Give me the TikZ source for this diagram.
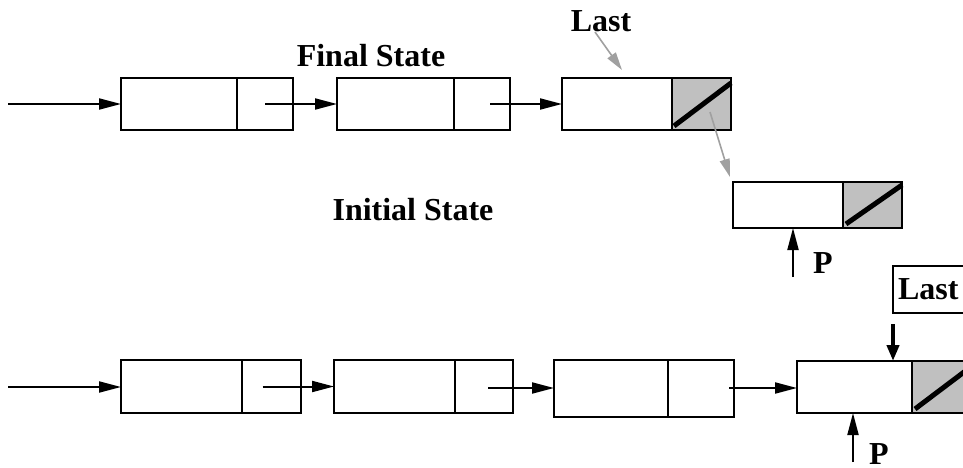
\documentclass[tikz,border=0pt]{standalone}
\usepackage{fontspec}
\setmainfont{Liberation Serif}
\usetikzlibrary{arrows.meta}
\definecolor{cellgray}{HTML}{C0C0C0}
\definecolor{linkgray}{HTML}{A0A0A0}
\begin{document}
\begin{tikzpicture}[x=1pt,y=-1pt,
  cell/.style={draw,line width=2pt,rectangle,inner sep=0pt,outer sep=0pt,anchor=north west},
  nilcell/.style={cell,fill=cellgray},
  link/.style={line width=2pt,-{Triangle[length=22pt,width=11pt]}},
  glink/.style={linkgray,line width=1.6pt,-{Triangle[length=18pt,width=10pt]}},
  nilbar/.style={line width=5pt},
  lbl/.style={font=\bfseries\fontsize{32}{38}\selectfont,inner sep=0pt,anchor=base}]
\clip (0,0) rectangle (963,468);

% ---- upper list ----
\node[cell,minimum width=116pt,minimum height=52pt] (T1d) at (121,78) {};
\node[cell,minimum width=56pt,minimum height=52pt] (T1p) at (237,78) {};
\node[cell,minimum width=117pt,minimum height=52pt] (T2d) at (337,78) {};
\node[cell,minimum width=56pt,minimum height=52pt] (T2p) at (454,78) {};
\node[cell,minimum width=110pt,minimum height=52pt] (T3d) at (562,78) {};
\node[nilcell,minimum width=59pt,minimum height=52pt] (T3p) at (672,78) {};
\draw[nilbar] ([shift={(2,-4)}]T3p.south west) -- ([shift={(0,5)}]T3p.north east);

\node[cell,minimum width=110pt,minimum height=46pt] (I4d) at (733,182) {};
\node[nilcell,minimum width=59pt,minimum height=46pt] (I4p) at (843,182) {};
\draw[nilbar] ([shift={(3,-4)}]I4p.south west) -- ([shift={(0,3)}]I4p.north east);

\coordinate (Tin) at (8,104);
\draw[link] (Tin) -- (T1d.west);
\draw[link] (T1p.center) -- (T2d.west);
\draw[link] ([xshift=8pt]T2p.center) -- (T3d.west);

\node[lbl] (final) at (371,67) {Final State};
\node[lbl] (initial) at (413,220) {Initial State};

\node[lbl] (lastT) at (601,32) {Last};
\coordinate (lastTtip) at (622,70);
\draw[glink] ([shift={(-6,0)}]lastT.base) -- (lastTtip);
\draw[glink] ([shift={(8.5,8)}]T3p.center) -- ([shift={(-3,-5)}]I4d.north west);

\node[lbl] (pT) at (823,273) {P};
\coordinate (pTfoot) at (793,277);
\draw[link] (pTfoot) -- (pTfoot |- I4d.south);

% ---- lower list ----
\node[cell,minimum width=121pt,minimum height=53pt] (B1d) at (121,360) {};
\node[cell,minimum width=59pt,minimum height=53pt] (B1p) at (242,360) {};
\node[cell,minimum width=121pt,minimum height=53pt] (B2d) at (334,360) {};
\node[cell,minimum width=58pt,minimum height=53pt] (B2p) at (455,360) {};
\node[cell,minimum width=114pt,minimum height=57pt] (B3d) at (554,360) {};
\node[cell,minimum width=66pt,minimum height=57pt] (B3p) at (668,360) {};
\node[cell,minimum width=115pt,minimum height=52pt] (B4d) at (797,361) {};
\node[nilcell,minimum width=70pt,minimum height=52pt] (B4p) at (912,361) {};
\draw[nilbar] ([shift={(3,-4)}]B4p.south west) -- +(66,-49.8);

\coordinate (Bin) at (8,387);
\draw[link] (Bin) -- (Bin -| B1d.west);
\coordinate (b1s) at ([xshift=-9pt]B1p.center);
\draw[link] (b1s) -- (b1s -| B2d.west);
\coordinate (b2s) at ([shift={(4,1.5)}]B2p.center);
\draw[link] (b2s) -- (b2s -| B3d.west);
\coordinate (b3s) at (729,388);
\draw[link] (b3s) -- (b3s -| B4d.west);

\node[draw,line width=2pt,font=\bfseries\fontsize{32}{38}\selectfont,inner sep=0pt,
      text depth=0pt,minimum height=47pt,minimum width=90pt,text width=80pt,anchor=north west] (lastB) at (892,265) {Last};
\draw[line width=4pt,-{Triangle[length=16pt,width=12pt]}] ([shift={(1,10)}]lastB.south west) -- ([xshift=-19pt]B4d.north east);

\node[lbl] (pB) at (879,464) {P};
\coordinate (pBfoot) at (853,462);
\draw[link] (pBfoot) -- (pBfoot |- B4d.south);
\end{tikzpicture}
\end{document}
